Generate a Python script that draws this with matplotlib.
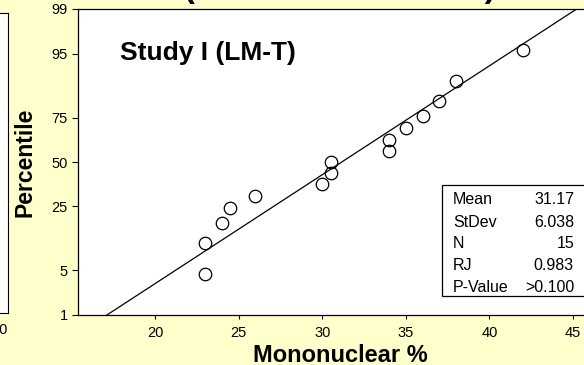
import numpy as np
import matplotlib
matplotlib.use("Agg")
import matplotlib.pyplot as plt
from matplotlib.patches import Rectangle
from statistics import NormalDist

plt.rcParams['font.family'] = ['Liberation Sans', 'DejaVu Sans']

# data
mono = [23, 23, 24, 24.5, 26, 30, 30.5, 30.5, 34, 34, 35, 36, 37, 38, 42]
pct = [4.5, 11.0, 17.5, 24.0, 30.5, 37.0, 43.5, 50.0, 56.5, 63.0, 69.5,
       76.0, 82.5, 89.0, 95.5]
mean, sd = 31.17, 6.038
stat_names = ['Mean', 'StDev', 'N', 'RJ', 'P-Value']
stat_vals = ['31.17', '6.038', '15', '0.983', '>0.100']
yticks = [1, 5, 25, 50, 75, 95, 99]
xticks = [20, 25, 30, 35, 40, 45]

W, H = 584, 365
bg = '#FFFFCC'
nd = NormalDist()


def fwd(p):
    p = np.asarray(p, float) / 100
    p = np.where(np.isfinite(p), np.clip(p, 1e-6, 1 - 1e-6), 0.5)
    return np.vectorize(nd.inv_cdf, otypes=[float])(p)


def inv(z):
    z = np.asarray(z, float)
    z = np.where(np.isfinite(z), z, 0.0)
    return 100 * np.vectorize(nd.cdf, otypes=[float])(z)


def box(x0, y0, x1, y1):
    # pixel box (top-left origin) -> figure fraction
    return [x0 / W, (H - y1) / H, (x1 - x0) / W, (y1 - y0) / H]


fig = plt.figure(figsize=(W / 100, H / 100), dpi=100, facecolor=bg)

# piece of the neighbouring panel on the left
ax0 = fig.add_axes(box(-120, 13, 7.5, 313))
ax0.set_xticks([])
ax0.set_yticks([])
ax0.spines['left'].set_visible(False)
fig.text(0 / W, 1 - 330 / H, '50', ha='center', va='center', fontsize=10.5)

ax = fig.add_axes(box(78, 9, 592, 315))
ax.set_facecolor('white')
ax.set_yscale('function', functions=(fwd, inv))
ax.set_ylim(1, 99)
ax.set_xlim(20 - 77 / 16.72, 20 + (592 - 155) / 16.72)

line_p = [1, 99]
line_x = [mean + sd * z for z in fwd(line_p)]
ax.plot(line_x, line_p, color='black', lw=0.9)
ax.plot(mono, pct, 'o', mfc='none', mec='black', ms=9, mew=0.9)

ax.set_yticks(yticks)
ax.set_yticklabels([str(t) for t in yticks])
ax.yaxis.set_minor_locator(plt.NullLocator())
ax.set_xticks(xticks)
ax.tick_params(axis='y', direction='out', length=4.3, width=0.8, pad=3, labelsize=10.5)
ax.tick_params(axis='x', direction='out', length=3, width=0.8, pad=5, labelsize=10.5)
for s in ax.spines.values():
    s.set_linewidth(0.9)
ax.spines['right'].set_visible(False)

ax.text(120 / W, 1 - 53 / H, 'Study I (LM-T)', transform=fig.transFigure,
        fontsize=19, fontweight='bold', ha='left', va='center')

fig.text(25 / W, 1 - 162 / H, 'Percentile', rotation=90, fontsize=16.5,
         fontweight='bold', ha='center', va='center')
fig.text(340 / W, 1 - 355 / H, 'Mononuclear %', fontsize=17,
         fontweight='bold', ha='center', va='center')

# title cut off at the top of the picture
fig.text(340 / W, 1 + 3 / H, '(Mononuclear Cells)', fontsize=23.5,
         fontweight='bold', ha='center', va='baseline')

# statistics box
fig.patches.append(Rectangle((442 / W, 1 - 296 / H), 150 / W, 111 / H,
                             transform=fig.transFigure, facecolor='white',
                             edgecolor='black', lw=0.9, zorder=5))
rows_y = [200, 222, 243, 265, 287]
for name, val, y in zip(stat_names, stat_vals, rows_y):
    fig.text(453 / W, 1 - y / H, name, fontsize=11.5, ha='left', va='center', zorder=6)
    fig.text(574 / W, 1 - y / H, val, fontsize=11.5, ha='right', va='center', zorder=6)

fig.savefig('out.png', dpi=100, facecolor=bg)
